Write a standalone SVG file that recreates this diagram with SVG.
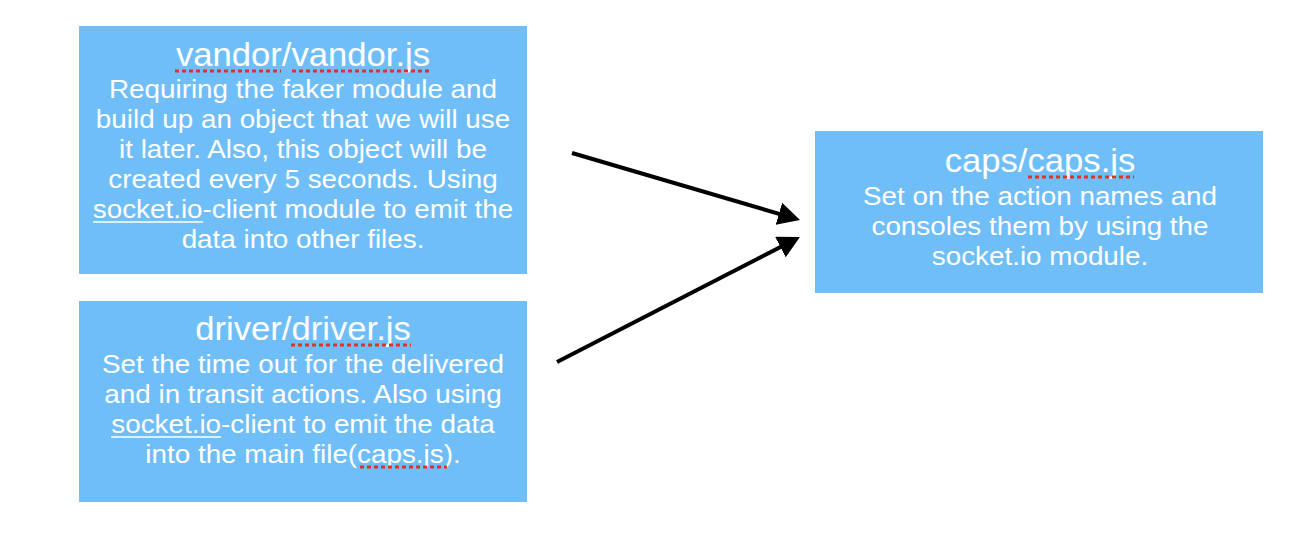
<svg xmlns="http://www.w3.org/2000/svg" width="1300" height="538" viewBox="0 0 1300 538">
<defs>
<style>
.box{fill:#6fbef8;}
.t{font-family:"Liberation Sans",Arial,Helvetica,sans-serif;fill:#ffffff;text-anchor:middle;}
.title{font-size:33px;}
.body{font-size:26.5px;}
.ul{stroke:#ffffff;stroke-width:1.3;}
.sp{stroke:#e0302a;stroke-width:3;stroke-dasharray:4 3;}
.conn{stroke:#000000;stroke-width:4;fill:none;}
</style>
<marker id="ah" markerUnits="userSpaceOnUse" markerWidth="24" markerHeight="24" refX="10" refY="11.5" orient="auto">
<path d="M0,0 L22,11.5 L0,23 z" fill="#000000"/>
</marker>
</defs>
<rect width="1300" height="538" fill="#ffffff"/>
<g id="vandor">
<rect class="box" x="79" y="26" width="448" height="248"/>
<g transform="matrix(1.05 0 0 1 303 0)">
<text class="t title" x="0" y="66">vandor/vandor.js</text>
<text class="t body" x="0" y="98">Requiring the faker module and</text>
<text class="t body" x="0" y="128">build up an object that we will use</text>
<text class="t body" x="0" y="158">it later. Also, this object will be</text>
<text class="t body" x="0" y="188">created every 5 seconds. Using</text>
<text class="t body" x="0" y="218">socket.io-client module to emit the</text>
<text class="t body" x="0" y="248">data into other files.</text>
</g>
<line class="sp" x1="175" y1="71" x2="281" y2="71"/>
<line class="sp" x1="292" y1="71" x2="431" y2="71"/>
<line class="ul" x1="93" y1="222" x2="203" y2="222"/>
</g>
<g id="driver">
<rect class="box" x="79" y="301" width="448" height="201"/>
<g transform="matrix(1.05 0 0 1 303 0)">
<text class="t title" x="0" y="340">driver/driver.js</text>
<text class="t body" x="0" y="373">Set the time out for the delivered</text>
<text class="t body" x="0" y="403">and in transit actions. Also using</text>
<text class="t body" x="0" y="433">socket.io-client to emit the data</text>
<text class="t body" x="0" y="463">into the main file(caps.js).</text>
</g>
<line class="sp" x1="291" y1="345" x2="411" y2="345"/>
<line class="ul" x1="111" y1="437" x2="221" y2="437"/>
<line class="sp" x1="360" y1="467" x2="447" y2="467"/>
</g>
<g id="caps">
<rect class="box" x="815" y="131" width="448" height="162"/>
<g transform="matrix(1.05 0 0 1 1040 0)">
<text class="t title" x="0" y="172">caps/caps.js</text>
<text class="t body" x="0" y="205">Set on the action names and</text>
<text class="t body" x="0" y="235">consoles them by using the</text>
<text class="t body" x="0" y="265">socket.io module.</text>
</g>
<line class="sp" x1="1028" y1="177" x2="1134" y2="177"/>
</g>
<g id="connectors">
<line class="conn" x1="572" y1="153" x2="788.5" y2="216.6" marker-end="url(#ah)"/>
<line class="conn" x1="557" y1="362" x2="789.3" y2="242.5" marker-end="url(#ah)"/>
</g>
</svg>
